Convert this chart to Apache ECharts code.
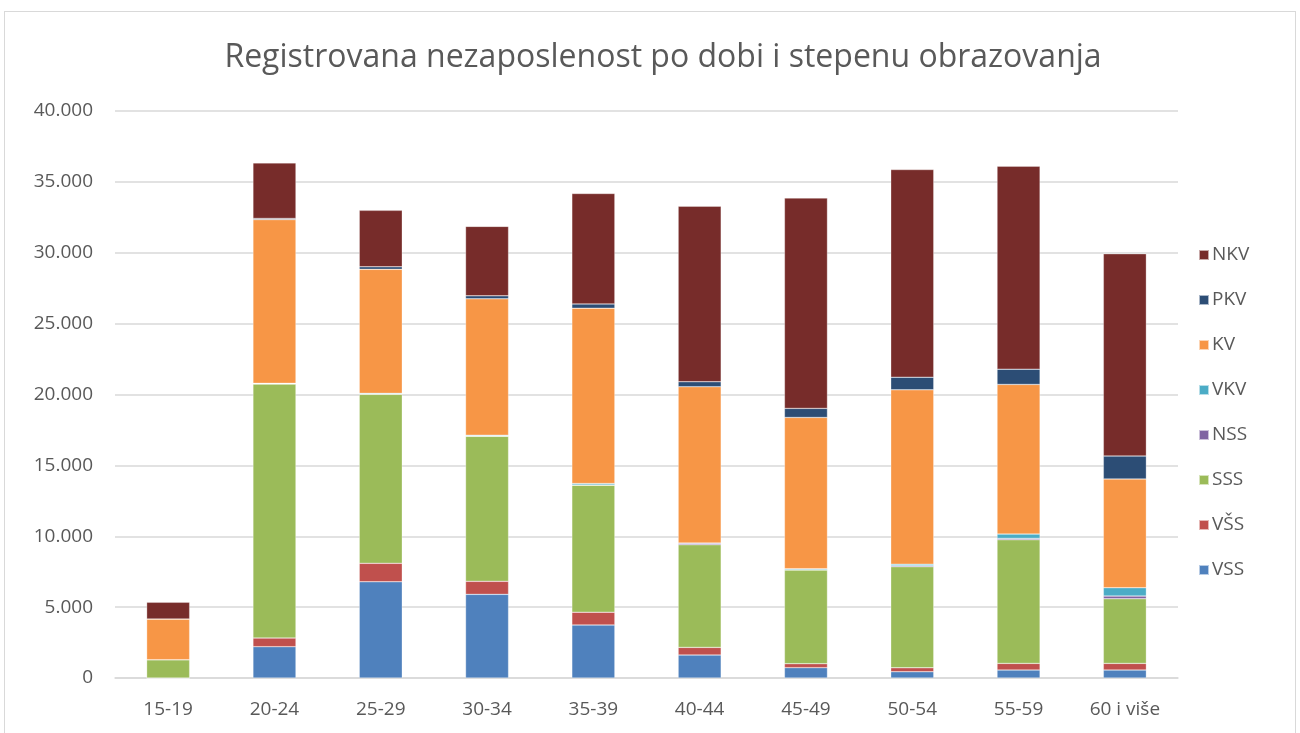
<!DOCTYPE html>
<html>
<head>
<meta charset="utf-8">
<script src="https://cdn.jsdelivr.net/npm/echarts@6/dist/echarts.min.js"></script>
<style>
  html, body { margin: 0; padding: 0; background: #fff; }
  #frame { position: absolute; left: 4px; top: 11px; width: 1292px; height: 730px; border: 1px solid #d9d9d9; box-sizing: border-box; }
  #chart { position: absolute; left: 0; top: 0; width: 1300px; height: 733px; }
</style>
</head>
<body>
<div id="frame"></div>
<div id="chart"></div>
<script>
// kategorije (starosne grupe)
const categories = ["15-19", "20-24", "25-29", "30-34", "35-39", "40-44", "45-49", "50-54", "55-59", "60 i više"];

// vrijednosti po stepenu obrazovanja, odozdo prema gore
const vss = [0, 2210, 6790, 5900, 3740, 1620, 730, 440, 560, 560];
const vss2 = [0, 610, 1300, 920, 900, 540, 280, 280, 470, 470]; // VŠS
const sss = [1290, 17920, 11920, 10230, 8960, 7240, 6610, 7130, 8720, 4560];
const nss = [0, 20, 20, 20, 20, 100, 20, 70, 100, 190];
const vkv = [0, 30, 50, 60, 100, 20, 70, 110, 300, 590];
const kv = [2870, 11550, 8750, 9620, 12370, 11030, 10670, 12300, 10560, 7670];
const pkv = [0, 80, 180, 210, 300, 350, 640, 890, 1080, 1620];
const nkv = [1180, 3920, 3980, 4900, 7790, 12380, 14840, 14650, 14320, 14270];

const seriesNames = ["VSS", "VŠS", "SSS", "NSS", "VKV", "KV", "PKV", "NKV"];
const seriesData = [vss, vss2, sss, nss, vkv, kv, pkv, nkv];
const seriesColors = ["#4F81BD", "#C0504D", "#9BBB59", "#8064A2", "#4BACC6", "#F79646", "#2C4D75", "#772C2A"];

const textColor = "#595959";
const fontFam = "'Open Sans', 'Noto Sans', sans-serif";

const chart = echarts.init(document.getElementById("chart"));

const series = seriesNames.map((name, i) => {
  return {
    name: name,
    type: "bar",
    stack: "total",
    barWidth: 43,
    data: seriesData[i],
    itemStyle: {
      color: seriesColors[i],
      borderColor: "rgba(255,255,255,0.6)",
      borderWidth: 0.5,
    },
    emphasis: { disabled: true },
  };
});

chart.setOption({
  animation: false,
  backgroundColor: "transparent",
  title: {
    text: "Registrovana nezaposlenost po dobi i stepenu obrazovanja",
    left: 658,
    textAlign: "center",
    top: 37,
    textStyle: {
      fontFamily: fontFam,
      fontSize: 32,
      fontWeight: "normal",
      color: textColor,
    },
  },
  legend: {
    orient: "vertical",
    left: 1193,
    top: 240,
    itemGap: 25,
    itemWidth: 10,
    itemHeight: 10,
    icon: "rect",
    data: seriesNames.slice().reverse(),
    textStyle: {
      fontFamily: fontFam,
      fontSize: 19,
      lineHeight: 20,
      color: textColor,
      padding: [0, 0, 0, -2],
    },
  },
  grid: {
    left: 115,
    right: 122,
    top: 111,
    bottom: 55,
    containLabel: false,
  },
  xAxis: {
    type: "category",
    data: categories,
    axisLine: { lineStyle: { color: "#d9d9d9", width: 1.5 } },
    axisTick: { show: false },
    axisLabel: {
      fontFamily: fontFam,
      fontSize: 19,
      color: textColor,
      margin: 22,
    },
  },
  yAxis: {
    type: "value",
    min: 0,
    max: 40000,
    interval: 5000,
    axisLine: { show: false },
    axisTick: { show: false },
    splitLine: { lineStyle: { color: "#d9d9d9", width: 1.5 } },
    axisLabel: {
      fontFamily: fontFam,
      fontSize: 19,
      color: textColor,
      margin: 22,
      formatter: (v) => {
        if (v === 0) return "0";
        return String(v).replace(/\B(?=(\d{3})+(?!\d))/g, ".");
      },
    },
  },
  series: series,
});
</script>
</body>
</html>
